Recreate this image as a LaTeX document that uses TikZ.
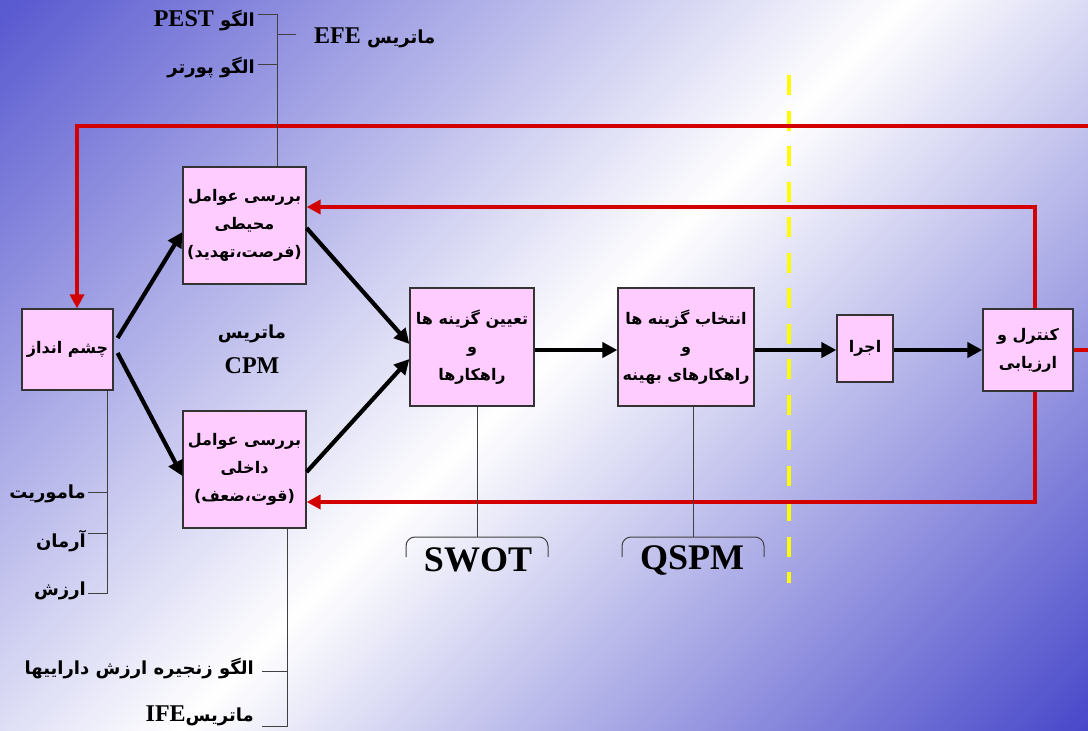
\documentclass[tikz,border=0pt]{standalone}
\usepackage{fontspec}
\setmainfont{Liberation Serif}
\newfontfamily\fa[Script=Arabic]{DejaVu Sans}
\TeXXeTstate=1
\usetikzlibrary{arrows.meta,calc}
\definecolor{bgblueA}{RGB}{88,88,208}
\definecolor{bgblueB}{RGB}{72,72,202}
\definecolor{boxpink}{RGB}{255,204,255}
\definecolor{redline}{RGB}{210,0,0}
\definecolor{yel}{RGB}{255,255,0}
\pgfdeclarehorizontalshading{bgshade}{100bp}{color(0bp)=(bgblueA); color(14.6bp)=(bgblueA); color(50bp)=(white); color(85.4bp)=(bgblueB); color(100bp)=(bgblueB)}
\newcommand\lat{\rmfamily\bfseries\fontsize{24}{24}\selectfont}
\begin{document}
\begin{tikzpicture}[x=1pt,y=-1pt,
  box/.style={draw=black!80, line width=1.2pt, fill=boxpink, inner sep=0pt, align=center, font=\fa\bfseries\fontsize{16}{28}\selectfont},
  blk/.style={line width=4.2pt, -{Triangle[length=15pt,width=15pt]}},
  rd/.style={line width=4.4pt, draw=redline},
  rda/.style={rd, -{Triangle[length=14pt,width=14pt]}},
  thinl/.style={line width=1pt, draw=black!75},
  lbl/.style={font=\fa\bfseries\fontsize{18}{20}\selectfont, inner sep=0pt},
  big/.style={font=\rmfamily\bfseries\fontsize{36}{36}\selectfont, inner sep=0pt}]
\shade[shading=bgshade, shading angle=-45] (0,0) rectangle (1088,731);
\useasboundingbox (0,0) rectangle (1088,731);

% boxes
\node[box, minimum width=91pt, minimum height=81pt] (vis) at (67.5,349.5) {\beginR چشم انداز\endR};
\node[box, minimum width=123pt, minimum height=117pt] (env) at (244.5,225.5) {\beginR بررسی عوامل\endR\\ \beginR محیطی\endR\\ \beginR (فرصت،تهدید)\endR};
\node[box, minimum width=123pt, minimum height=117pt] (int) at (244.5,469.5) {\beginR بررسی عوامل\endR\\ \beginR داخلی\endR\\ \beginR (قوت،ضعف)\endR};
\node[box, minimum width=124pt, minimum height=118pt] (tay) at (472,347) {\beginR تعیین گزینه ها\endR\\ \beginR و\endR\\ \beginR راهکارها\endR};
\node[box, minimum width=136pt, minimum height=118pt] (ent) at (686,347) {\beginR انتخاب گزینه ها\endR\\ \beginR و\endR\\ \beginR راهکارهای بهینه\endR};
\node[box, minimum width=56pt, minimum height=67pt] (ejr) at (865,348.5) {\beginR اجرا\endR};
\node[box, minimum width=90pt, minimum height=82pt] (kon) at (1028,350) {\beginR کنترل و\endR\\ \beginR ارزیابی\endR};

% yellow dashed divider
\coordinate (y0) at (789,75); \coordinate (y1) at (789,583);
\draw[draw=yel, line width=3.5pt, dash pattern=on 20pt off 15.5pt] (y0) -- (y1);

% red feedback lines
\coordinate (kr) at (1088,350);
\coordinate (tr) at (1088,126); \coordinate (tl) at (77,126);
\draw[rd] (kon.east) -- (kr);
\draw[rda] (tr) -- (tl) -- (tl |- vis.north);
\draw[rda] ([xshift=7pt]kon.north) |- ([yshift=18.5pt]env.east);
\draw[rda] ([xshift=7pt]kon.south) |- ([yshift=-32.5pt]int.east);

% black flow arrows
\draw[blk] ([shift={(4pt,11.5pt)}]vis.east) -- ([yshift=-6.5pt]env.west);
\draw[blk] ([shift={(4pt,-3.5pt)}]vis.east) -- ([yshift=-6.5pt]int.west);
\draw[blk] ([yshift=-2.5pt]env.east) -- ([yshift=3pt]tay.west);
\draw[blk] ([yshift=-2.5pt]int.east) -- ([yshift=-12pt]tay.west);
\draw[blk] ([yshift=-3pt]tay.east) -- ([yshift=-3pt]ent.west);
\draw[blk] ([yshift=-3pt]ent.east) -- ([yshift=-1.5pt]ejr.west);
\draw[blk] ([yshift=-1.5pt]ejr.east) -- (kon.west);

% external environment tree
\coordinate (e0) at (277,14); \coordinate (e0l) at (258,14);
\coordinate (e1) at (277,64); \coordinate (e1l) at (258,64);
\coordinate (e2) at (277,34); \coordinate (e2r) at (296,34);
\draw[thinl] ([xshift=32.5pt]env.north) -- (e0) -- (e0l);
\draw[thinl] (e1) -- (e1l);
\draw[thinl] (e2) -- (e2r);
\node[lbl, anchor=east] (pest) at (255,21) {\beginR الگو \beginL{\lat PEST}\endL\endR};
\node[lbl, anchor=east] (porter) at (255,68) {\beginR الگو پورتر\endR};
\node[lbl, anchor=west] (efe) at (314,38) {\beginR ماتریس \beginL{\lat EFE}\endL\endR};

% CPM
\node[lbl] (cpm1) at (252,334) {\beginR ماتریس\endR};
\node[inner sep=0pt, font=\lat] (cpm2) at (252,366) {CPM};

% vision tree
\coordinate (v1) at (107,492); \coordinate (v1l) at (88,492);
\coordinate (v2) at (107,533); \coordinate (v2l) at (88,533);
\coordinate (v3) at (107,593); \coordinate (v3l) at (88,593);
\draw[thinl] ([xshift=39.5pt]vis.south) -- (v3) -- (v3l);
\draw[thinl] (v1) -- (v1l);
\draw[thinl] (v2) -- (v2l);
\node[lbl, anchor=east] (mam) at (86,494) {\beginR ماموریت\endR};
\node[lbl, anchor=east] (arm) at (86,541) {\beginR آرمان\endR};
\node[lbl, anchor=east] (arz) at (86,591) {\beginR ارزش\endR};

% internal tree
\coordinate (i1) at (287,671); \coordinate (i1l) at (262,671);
\coordinate (i2) at (287,726); \coordinate (i2l) at (262,726);
\draw[thinl] ([xshift=42.5pt]int.south) -- (i2) -- (i2l);
\draw[thinl] (i1) -- (i1l);
\node[lbl, anchor=east] (zan) at (254,669) {\beginR الگو زنجیره ارزش داراییها\endR};
\node[lbl, anchor=east] (ife) at (254,716) {\beginR ماتریس\beginL{\lat IFE}\endL\endR};

% SWOT
\coordinate (sw) at (477,537);
\coordinate (swl) at (406,557); \coordinate (swr) at (548,557);
\draw[thinl] ([xshift=5pt]tay.south) -- (sw);
\draw[thinl, rounded corners=9pt] (swl) -- (swl |- sw) -- (swr |- sw) -- (swr);
\node[big] (swot) at (478,560) {SWOT};

% QSPM
\coordinate (qs) at (693,537);
\coordinate (qsl) at (622,557); \coordinate (qsr) at (764,557);
\draw[thinl] ([xshift=7pt]ent.south) -- (qs);
\draw[thinl, rounded corners=9pt] (qsl) -- (qsl |- qs) -- (qsr |- qs) -- (qsr);
\node[big] (qspm) at (692,560) {QSPM};
\end{tikzpicture}
\end{document}
